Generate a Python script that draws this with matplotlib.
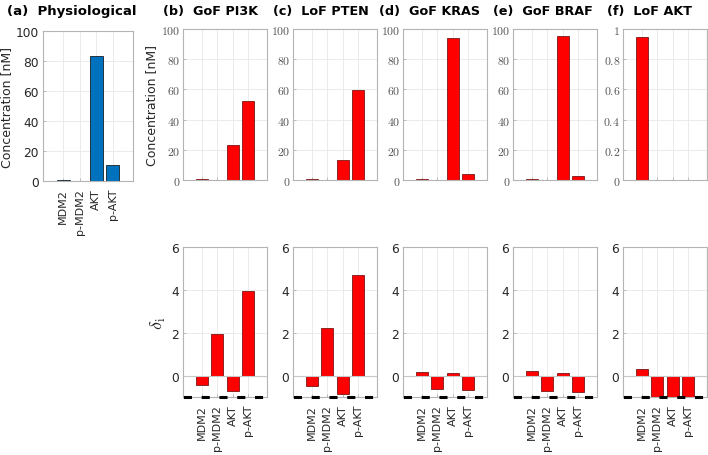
#!/usr/bin/env python3
"""Steady-state concentrations and relative changes for each mutation."""

import numpy as np
import matplotlib
matplotlib.use('Agg')
import matplotlib.pyplot as plt
from matplotlib.ticker import FuncFormatter

plt.rcParams['font.family'] = 'DejaVu Sans'
plt.rcParams['mathtext.fontset'] = 'cm'
plt.rcParams['lines.scale_dashes'] = False

SPECIES = ['MDM2', 'p-MDM2', 'AKT', 'p-AKT']
PHYSIO = [0.8, 0.1, 83.5, 10.8]

MUTATIONS = ['GoF PI3K', 'LoF PTEN', 'GoF KRAS', 'GoF BRAF', 'LoF AKT']
LETTERS = ['(b)', '(c)', '(d)', '(e)', '(f)']

CONC_PI3K = [0.5, 0.3, 23.4, 52.1]
CONC_PTEN = [0.5, 0.3, 13.2, 59.8]
CONC_KRAS = [0.9, 0.2, 94.0, 3.8]
CONC_BRAF = [0.8, 0.2, 95.6, 2.8]
CONC_AKT = [0.95, 0.0, 0.0, 0.0]

DELTA_PI3K = [-0.42, 1.95, -0.74, 3.95]
DELTA_PTEN = [-0.47, 2.22, -0.85, 4.68]
DELTA_KRAS = [0.17, -0.62, 0.11, -0.68]
DELTA_BRAF = [0.20, -0.73, 0.12, -0.78]
DELTA_AKT = [0.31, -1.0, -1.0, -1.0]

CONC = [CONC_PI3K, CONC_PTEN, CONC_KRAS, CONC_BRAF, CONC_AKT]
DELTA = [DELTA_PI3K, DELTA_PTEN, DELTA_KRAS, DELTA_BRAF, DELTA_AKT]

W, H = 708, 456
RED = '#ff0000'
BLUE = '#0072bd'
SPINE = '#b4b4b4'
GRID = '#e8e8e8'
XLIM = (-0.22, 5.22)

fig = plt.figure(figsize=(W / 100, H / 100), dpi=100)


def add_ax(left, top, right, bottom):
    """Axes from pixel box."""
    return fig.add_axes([left / W, 1 - bottom / H, (right - left) / W,
                         (bottom - top) / H])


def style(ax):
    """MATLAB-ish box, grid and ticks."""
    for sp in ax.spines.values():
        sp.set_color(SPINE)
        sp.set_linewidth(0.8)
    ax.grid(True, color=GRID, linewidth=0.6)
    ax.set_axisbelow(True)
    ax.tick_params(direction='in', length=2, color=SPINE, width=0.6)
    ax.set_xlim(*XLIM)
    ax.set_xticks(np.arange(1, 5))


x = np.arange(1, 5)

# (a) physiological
ax = add_ax(43, 32, 133, 182)
style(ax)
ax.bar(x, PHYSIO, width=0.8, color=BLUE, edgecolor='k', linewidth=0.5)
ax.set_ylim(0, 100)
ax.set_yticks(range(0, 101, 20))
ax.set_xticklabels(SPECIES, rotation=90, fontsize=8, color='#262626')
ax.tick_params(axis='y', labelsize=8.8, labelcolor='#262626', pad=3)
ax.tick_params(axis='x', pad=5)
ax.set_ylabel('Concentration [nM]', fontsize=9, color='#262626', labelpad=2)
fig.text(7 / W, 1 - 12 / H, '(a)  Physiological', fontsize=9.5,
         fontweight='bold', ha='left', va='center')

serif = FuncFormatter(lambda v, pos: f'${v:g}$')
title_x = [163, 273, 379, 493, 607]

for k in range(5):
    left = 183 + 110 * k
    right = left + 84

    top = add_ax(left, 30, right, 181)
    style(top)
    top.bar(x, CONC[k], width=0.8, color=RED, edgecolor='#600000',
            linewidth=0.5)
    if k == 4:
        top.set_ylim(0, 1)
        top.set_yticks(np.linspace(0, 1, 6))
    else:
        top.set_ylim(0, 100)
        top.set_yticks(range(0, 101, 20))
    top.yaxis.set_major_formatter(serif)
    top.set_xticklabels([])
    top.tick_params(axis='y', labelsize=8.5, labelcolor='#555555', pad=2)
    if k == 0:
        top.set_ylabel('Concentration [nM]', fontsize=9, color='#262626',
                       labelpad=2)

    bot = add_ax(left, 248, right, 398)
    style(bot)
    bot.bar(x, DELTA[k], width=0.8, color=RED, edgecolor='#600000',
            linewidth=0.5)
    bot.axhline(0, color='#c8c8c8', linewidth=0.8, zorder=1)
    bot.set_ylim(-1, 6)
    bot.set_yticks([0, 2, 4, 6])
    bot.set_xticklabels(SPECIES, rotation=90, fontsize=8, color='#262626')
    bot.tick_params(axis='y', labelsize=8.8, labelcolor='#262626', pad=3)
    bot.tick_params(axis='x', pad=5)
    bot.plot(XLIM, [-1, -1], color='k', linewidth=2.2, clip_on=False,
             linestyle=(12.5, (5.8, 7.0)), zorder=5)
    if k == 0:
        bot.set_ylabel(r'$\delta_{\rm i}$', fontsize=13, color='#262626',
                       labelpad=2)

    fig.text(title_x[k] / W, 1 - 12 / H, f'{LETTERS[k]}  {MUTATIONS[k]}',
             fontsize=9.2, fontweight='bold', ha='left', va='center')

fig.savefig('out.png', dpi=100)
